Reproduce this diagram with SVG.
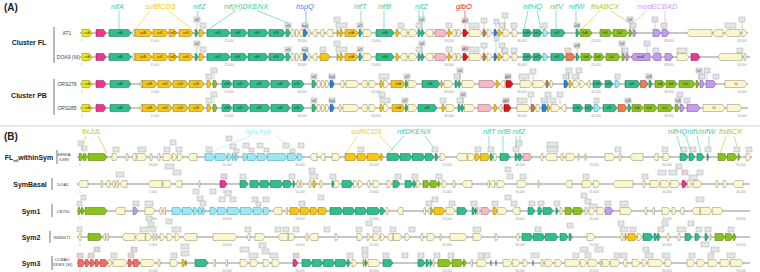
<svg xmlns="http://www.w3.org/2000/svg" width="760" height="272" viewBox="0 0 760 272">
<style>
.tk{stroke:#b5b5b5;stroke-width:1.3}
path.y,path.ly,path.m,path.t,path.b,path.lb,path.c,path.p,path.r,path.o,path.v,path.l,path.br,path.s{stroke-width:.5}
.y{fill:#f5c518;stroke:#8f7400}
.ly{fill:#ecec1c;stroke:#7d7a00}
.m{fill:#ec3590;stroke:#8a1a52}
.t{fill:#2ebf8b;stroke:#15674a}
.b{fill:#2a7fe0;stroke:#124a8a}
.lb{fill:#9ee6f2;stroke:#3a9aa8}
.c{fill:#fcf6cc;stroke:#8d8a6a}
.p{fill:#f5b9c3;stroke:#a0606a}
.r{fill:#e0141c;stroke:#7a0a0e}
.o{fill:#ec7b52;stroke:#8a3d20}
.v{fill:#8cc21c;stroke:#4a6e0c}
.l{fill:#c39cec;stroke:#6d4fa0}
.br{fill:#c8834a;stroke:#6a4020}
.s{fill:#ef6e68;stroke:#8a2e2a}
text{font-family:"Liberation Sans",Arial,sans-serif}
.gl{font-size:3px;fill:#333;text-anchor:middle}
.tl{font-size:3.2px;fill:#9a9a9a;text-anchor:middle}
.hd{font-size:7.5px;font-style:italic}
.rl{font-size:7px;font-weight:bold;fill:#222;text-anchor:middle}
.sl{font-size:5px;fill:#444;text-anchor:middle}
.sb{font-size:4.2px}
.bx rect{fill:#e3e6e3;stroke:#9aa09a;stroke-width:.4}
.bl{stroke:#8a8a8a;stroke-width:.4;fill:none}
.bt{font-size:2.6px;fill:#333;text-anchor:middle}
.cn{fill:#3dcf9e}.cs{fill:#f4cb10}.ch{fill:#3b8fe6}.cg{fill:#e4161c}.cf{fill:#a2cc2e}.cm{fill:#c6a2ee}.cy{fill:#a4eaf4}
.ln{fill:none;stroke-width:.6}
.bar{stroke:#8a8a8a;stroke-width:1.2}
</style>

<g id="panel-labels">
<text x="4" y="11" font-size="10" font-weight="bold" fill="#222">(A)</text>
<text x="4" y="140" font-size="10" font-weight="bold" fill="#222">(B)</text>
<line x1="0" y1="126" x2="760" y2="126" stroke="#cfcfcf" stroke-width="1"/>
</g>

<g id="headers">
<text class="hd cn" x="111" y="9">nifA</text>
<text class="hd cs" x="145" y="9">sufBCDS</text>
<text class="hd cn" x="193" y="9">nifZ</text>
<text class="hd cn" x="224" y="9">nif(H)DKENX</text>
<text class="hd ch" x="296" y="9">hspQ</text>
<text class="hd cn" x="354" y="9">nifT</text>
<text class="hd cn" x="378" y="9">nifB</text>
<text class="hd cn" x="415" y="9">nifZ</text>
<text class="hd cg" x="456" y="9">glbO</text>
<text class="hd cn" x="523" y="9">nifHQ</text>
<text class="hd cn" x="550" y="9">nifV</text>
<text class="hd cn" x="569" y="9">nifW</text>
<text class="hd cf" x="591" y="9">fixABCX</text>
<text class="hd cm" x="637" y="9">modECBAD</text>
<text class="hd cf" x="82" y="134">fixJJL</text>
<text class="hd cy" x="245" y="134">hya,hyp</text>
<text class="hd cs" x="351" y="134">sufBCDS</text>
<text class="hd cn" x="397" y="134">nifDKENX</text>
<text class="hd cn" x="483" y="134">nifT nifB nifZ</text>
<text class="hd cn" x="668" y="134">nifHQnifVnifW</text>
<text class="hd cf" x="719" y="134">fixBCX</text>
</g>

<g id="connectors">
<path class="ln" stroke="#3dcf9e" d="M119 10.5V29M198 10.5L197 17M236 10.5L209 29M257 10.5L288 23M361 10.5V23M384 10.5V29M419 10.5V23M423 10.5V17M528 10.5L524 29M537 10.5L541 29M556 10.5V29M576 10.5V23"/>
<path class="ln" stroke="#f4cb10" d="M150 10.5L136 29M168 10.5L192 29"/>
<path class="ln" stroke="#3b8fe6" d="M306 10.5V23"/>
<path class="ln" stroke="#e4161c" d="M465 10.5V18"/>
<path class="ln" stroke="#a2cc2e" d="M600 10.5L582 29M610 10.5L630 23"/>
<path class="ln" stroke="#c6a2ee" d="M647 10.5L633 23M665 10.5V23"/>
<path class="ln" stroke="#a2cc2e" d="M86 136L81 150M98 136L107 153.5M726 136L720 153.5M734 136L738 150"/>
<path class="ln" stroke="#a4eaf4" d="M250 136L208 153.5M275 136L293 147"/>
<path class="ln" stroke="#f4cb10" d="M357 136L346 153.5M380 136L396 153.5"/>
<path class="ln" stroke="#3dcf9e" d="M404 136L388 153.5M425 136L436 151M489 136V150M503 136V153.5M516 136V148M520 136V146M677 136L682 153.5M686 136L691 153.5M697 136L701 153.5M709 136V150"/>
</g>

<g id="row-labels">
<text class="rl" x="29" y="45">Cluster FL</text>
<text class="rl" x="29" y="98">Cluster PB</text>
<line class="bar" x1="54" y1="27" x2="54" y2="63"/>
<line class="bar" x1="54" y1="79" x2="54" y2="115"/>
<text class="sl" x="67" y="34.8">AT1</text>
<text class="sl" x="68.5" y="58.8">DOA9 (NI)</text>
<text class="sl" x="67" y="85.8">ORS278</text>
<text class="sl" x="67" y="109.8">ORS285</text>
<text class="rl" x="29" y="160" font-size="7.5">FL<tspan font-size="4" dy="1.5">nif</tspan><tspan dy="-1.5">withinSym</tspan></text>
<text class="rl" x="30" y="187" font-size="7.5">SymBasal</text>
<text class="rl" x="31" y="214" font-size="7.5">Sym1</text>
<text class="rl" x="31" y="240" font-size="7.5">Sym2</text>
<text class="rl" x="31" y="266" font-size="7.5">Sym3</text>
<line class="bar" x1="57" y1="150" x2="57" y2="164"/>
<line class="bar" x1="52" y1="178" x2="52" y2="190"/>
<line class="bar" x1="52" y1="204" x2="52" y2="217"/>
<line class="bar" x1="50" y1="231" x2="50" y2="243"/>
<line class="bar" x1="52" y1="256" x2="52" y2="270"/>
<text class="sl sb" x="64" y="155.5">SEMIA</text>
<text class="sl sb" x="64" y="160.5">6399</text>
<text class="sl sb" x="63" y="185.5">DOA1</text>
<text class="sl sb" x="63" y="212.5">CB756</text>
<text class="sl sb" x="62" y="238.5">WSM471</text>
<text class="sl sb" x="62" y="261">CCBAU</text>
<text class="sl sb" x="62.5" y="266">53363 (SI)</text>
</g>

<!-- ===== A1 AT1 ===== -->
<g id="track-AT1" transform="translate(0,33)">
<line class="tk" x1="80" y1="0" x2="748" y2="0"/>
<path class="ly" d="M82-3.5H89.5l2.5 3.5-2.5 3.5H82z"/>
<path class="y" d="M135-3.5H149.5l2.5 3.5-2.5 3.5H135zM153-3.5H165.5l2.5 3.5-2.5 3.5H153zM169-3.5H174.5l2.5 3.5-2.5 3.5H169zM179-3.5H190.5l2.5 3.5-2.5 3.5H179zM199-3.5H201.5l2.5 3.5-2.5 3.5H199zM337-3.5H337.5l1.5 3.5-1.5 3.5H337zM340-3.5H341.5l1.5 3.5-1.5 3.5H340zM345-3.5H355.5l2.5 3.5-2.5 3.5H345zM396-3.5H397.5l1.5 3.5-1.5 3.5H396zM448-3.5H449.5l1.5 3.5-1.5 3.5H448zM498-3.5H499.5l2.5 3.5-2.5 3.5H498z"/>
<path class="m" d="M96-3.5H103.5l2.5 3.5-2.5 3.5H96z"/>
<path class="t" d="M109-3.5H128.5l2.5 3.5-2.5 3.5H109zM195-3.5H196.5l1.5 3.5-1.5 3.5H195zM207-3.5H227.5l2.5 3.5-2.5 3.5H207zM231-3.5H244.5l2.5 3.5-2.5 3.5H231zM248-3.5H265.5l2.5 3.5-2.5 3.5H248zM269-3.5H282.5l2.5 3.5-2.5 3.5H269zM286-3.5H288.5l1.5 3.5-1.5 3.5H286zM359-3.5H360.5l1.5 3.5-1.5 3.5H359zM376-3.5H391.5l2.5 3.5-2.5 3.5H376zM418-3.5H419.5l1.5 3.5-1.5 3.5H418zM421.5-3.5H422.5l1.5 3.5-1.5 3.5H421.5zM523-3.5H529.5l2.5 3.5-2.5 3.5H523zM533-3.5H539.5l2.5 3.5-2.5 3.5H533zM551-3.5H562.5l2.5 3.5-2.5 3.5H551zM576-3.5H577.5l1.5 3.5-1.5 3.5H576z"/>
<path class="c" d="M134.5-3.5H133.5l-1.5 3.5 1.5 3.5H134.5zM291-3.5H293.5l1.5 3.5-1.5 3.5H291zM295.3-3.5H297.5l1.5 3.5-1.5 3.5H295.3zM303-3.5H300.5l-1.5 3.5 1.5 3.5H303zM308-3.5H309.5l1.5 3.5-1.5 3.5H308zM317-3.5H314.5l-2.5 3.5 2.5 3.5H317zM324-3.5H321.5l-1.5 3.5 1.5 3.5H324zM333-3.5H328.5l-2.5 3.5 2.5 3.5H333zM363-3.5H369.5l2.5 3.5-2.5 3.5H363zM407-3.5H402.5l-2.5 3.5 2.5 3.5H407zM409-3.5H414.5l2.5 3.5-2.5 3.5H409zM433-3.5H427.5l-2.5 3.5 2.5 3.5H433zM456-3.5H453.5l-1.5 3.5 1.5 3.5H456zM457-3.5H459.5l1.5 3.5-1.5 3.5H457zM469-3.5H479.5l2.5 3.5-2.5 3.5H469zM487-3.5H489.5l2.5 3.5-2.5 3.5H487zM503-3.5H507.5l2.5 3.5-2.5 3.5H503zM512-3.5H515.5l2.5 3.5-2.5 3.5H512zM712-3.5H689.5l-2.5 3.5 2.5 3.5H712zM723-3.5H715.5l-2.5 3.5 2.5 3.5H723zM740-3.5H727.5l-2.5 3.5 2.5 3.5H740zM742-3.5H744.5l2.5 3.5-2.5 3.5H742z"/>
<path class="b" d="M303.5-3.5H305.5l1.5 3.5-1.5 3.5H303.5zM494-3.5H495.5l1.5 3.5-1.5 3.5H494z"/>
<path class="lb" d="M543-3.5H545.5l2.5 3.5-2.5 3.5H543z"/>
<path class="p" d="M435-3.5H444.5l2.5 3.5-2.5 3.5H435z"/>
<path class="r" d="M463-3.5H465.5l2.5 3.5-2.5 3.5H463z"/>
<path class="br" d="M483-3.5H484.5l1.5 3.5-1.5 3.5H483z"/>
<path class="v" d="M580-3.5H589.5l2.5 3.5-2.5 3.5H580zM600-3.5H609.5l2.5 3.5-2.5 3.5H600zM613-3.5H625.5l2.5 3.5-2.5 3.5H613zM629-3.5H630.5l1.5 3.5-1.5 3.5H629z"/>
<path class="l" d="M633-3.5H634.5l1.5 3.5-1.5 3.5H633zM653-3.5H658.5l2.5 3.5-2.5 3.5H653zM662-3.5H666.5l2.5 3.5-2.5 3.5H662z"/>
<g class="gl"><text x="87" y="1">sufA</text><text x="120" y="1">nifA</text><text x="143" y="1">sufB</text><text x="160" y="1">sufC</text><text x="173" y="1">sufD</text><text x="186" y="1">sufS</text><text x="218" y="1">nifD</text><text x="238" y="1">nifK</text><text x="257" y="1">nifE</text><text x="276" y="1">nifN</text><text x="351" y="1">sufA</text><text x="385" y="1">nifB</text><text x="527" y="1">nifH</text><text x="537" y="1">nifQ</text><text x="557" y="1">nifV</text><text x="585" y="1">fixA</text><text x="605" y="1">fixB</text><text x="620" y="1">fixC</text></g>
<g class="tl"><text x="82" y="9">1</text><text x="155" y="9">6,000</text><text x="229" y="9">12,000</text><text x="302" y="9">18,000</text><text x="376" y="9">24,000</text><text x="449" y="9">30,000</text><text x="522" y="9">36,000</text><text x="596" y="9">42,000</text><text x="669" y="9">48,000</text><text x="742" y="9">54,000</text></g>
<g class="bx"><rect x="194" y="-16" width="6" height="5"/><rect x="200" y="-10" width="6" height="5"/><rect x="285" y="-10" width="6" height="5"/><rect x="302" y="-10" width="6" height="5" style="fill:#d3e4f5"/><rect x="334" y="-16" width="6" height="5"/><rect x="336" y="-10" width="11" height="5"/><rect x="357" y="-10" width="6" height="5"/><rect x="398" y="-10" width="6" height="5"/><rect x="416" y="-10" width="6" height="5"/><rect x="419" y="-16" width="6" height="5"/><rect x="446" y="-10" width="6" height="5"/><rect x="462" y="-15" width="6" height="5" style="fill:#f1d0d0"/><rect x="469" y="-10" width="10" height="5"/><rect x="481" y="-15" width="6" height="5"/><rect x="494" y="-14" width="5" height="5" style="fill:#d3e4f5"/><rect x="499" y="-10" width="6" height="5"/><rect x="502" y="-20" width="6" height="5"/><rect x="511" y="-10" width="6" height="5"/><rect x="542" y="-10" width="5" height="5"/><rect x="574" y="-10" width="6" height="5"/><rect x="627" y="-16" width="6" height="5"/><rect x="630" y="-10" width="6" height="5" style="fill:#e6dcf3"/><rect x="652" y="-16" width="6" height="5" style="fill:#e6dcf3"/><rect x="661" y="-10" width="6" height="5" style="fill:#e6dcf3"/><rect x="725" y="-10" width="11" height="5"/><rect x="739" y="-16" width="6" height="5"/></g>
<path class="bl" d="M197-11V-3.5M203-5V-3.5M288-5V-3.5M305-5V-3.5M337-11V-10M341-5V-3.5M360-5V-3.5M401-5V-3.5M419-5V-3.5M422-11V-3.5M449-5V-3.5M465-10V-3.5M474-5V-3.5M484-10V-3.5M496-9V-3.5M502-5V-3.5M505-15V-3.5M514-5V-3.5M545-5V-3.5M577-5V-3.5M630-11V-3.5M633-5V-3.5M655-11V-3.5M664-5V-3.5M730-5V-3.5M742-11V-3.5"/>
<g class="bt"><text x="197" y="-12.5">nifZ</text><text x="288" y="-6.5">nifX</text><text x="305" y="-6.5">hspQ</text><text x="360" y="-6.5">nifT</text><text x="422" y="-12.5">nifZ</text><text x="465" y="-11.5">glbO</text><text x="577" y="-6.5">nifW</text><text x="630" y="-12.5">fixX</text></g>
</g>

<!-- ===== A2 DOA9 ===== -->
<g id="track-DOA9" transform="translate(0,57)">
<line class="tk" x1="80" y1="0" x2="750" y2="0"/>
<path class="ly" d="M82-3.5H89.5l2.5 3.5-2.5 3.5H82z"/>
<path class="y" d="M135-3.5H149.5l2.5 3.5-2.5 3.5H135zM153-3.5H165.5l2.5 3.5-2.5 3.5H153zM169-3.5H174.5l2.5 3.5-2.5 3.5H169zM179-3.5H190.5l2.5 3.5-2.5 3.5H179zM199-3.5H201.5l2.5 3.5-2.5 3.5H199zM320-3.5H327.5l2.5 3.5-2.5 3.5H320zM337-3.5H337.5l1.5 3.5-1.5 3.5H337zM340-3.5H341.5l1.5 3.5-1.5 3.5H340zM345-3.5H355.5l2.5 3.5-2.5 3.5H345zM396-3.5H397.5l1.5 3.5-1.5 3.5H396zM448-3.5H449.5l1.5 3.5-1.5 3.5H448zM498-3.5H499.5l2.5 3.5-2.5 3.5H498z"/>
<path class="m" d="M96-3.5H103.5l2.5 3.5-2.5 3.5H96zM691-3.5H697.5l2.5 3.5-2.5 3.5H691z"/>
<path class="t" d="M109-3.5H128.5l2.5 3.5-2.5 3.5H109zM195-3.5H196.5l1.5 3.5-1.5 3.5H195zM207-3.5H227.5l2.5 3.5-2.5 3.5H207zM231-3.5H244.5l2.5 3.5-2.5 3.5H231zM248-3.5H265.5l2.5 3.5-2.5 3.5H248zM269-3.5H282.5l2.5 3.5-2.5 3.5H269zM286-3.5H288.5l1.5 3.5-1.5 3.5H286zM359-3.5H360.5l1.5 3.5-1.5 3.5H359zM376-3.5H391.5l2.5 3.5-2.5 3.5H376zM418-3.5H419.5l1.5 3.5-1.5 3.5H418zM421.5-3.5H422.5l1.5 3.5-1.5 3.5H421.5zM523-3.5H529.5l2.5 3.5-2.5 3.5H523zM533-3.5H539.5l2.5 3.5-2.5 3.5H533zM551-3.5H562.5l2.5 3.5-2.5 3.5H551zM576-3.5H577.5l1.5 3.5-1.5 3.5H576z"/>
<path class="c" d="M134.5-3.5H133.5l-1.5 3.5 1.5 3.5H134.5zM291-3.5H293.5l1.5 3.5-1.5 3.5H291zM295.3-3.5H297.5l1.5 3.5-1.5 3.5H295.3zM303-3.5H300.5l-1.5 3.5 1.5 3.5H303zM308-3.5H309.5l1.5 3.5-1.5 3.5H308zM317-3.5H314.5l-2.5 3.5 2.5 3.5H317zM363-3.5H369.5l2.5 3.5-2.5 3.5H363zM407-3.5H402.5l-2.5 3.5 2.5 3.5H407zM409-3.5H414.5l2.5 3.5-2.5 3.5H409zM433-3.5H427.5l-2.5 3.5 2.5 3.5H433zM456-3.5H453.5l-1.5 3.5 1.5 3.5H456zM457-3.5H459.5l1.5 3.5-1.5 3.5H457zM469-3.5H479.5l2.5 3.5-2.5 3.5H469zM487-3.5H489.5l2.5 3.5-2.5 3.5H487zM503-3.5H507.5l2.5 3.5-2.5 3.5H503zM512-3.5H515.5l2.5 3.5-2.5 3.5H512zM677-3.5H686.5l2.5 3.5-2.5 3.5H677zM742-3.5H720.5l-2.5 3.5 2.5 3.5H742zM744-3.5H745.5l1.5 3.5-1.5 3.5H744z"/>
<path class="b" d="M303.5-3.5H305.5l1.5 3.5-1.5 3.5H303.5zM494-3.5H495.5l1.5 3.5-1.5 3.5H494z"/>
<path class="lb" d="M543-3.5H545.5l2.5 3.5-2.5 3.5H543z"/>
<path class="p" d="M435-3.5H444.5l2.5 3.5-2.5 3.5H435z"/>
<path class="r" d="M463-3.5H465.5l2.5 3.5-2.5 3.5H463z"/>
<path class="br" d="M483-3.5H484.5l1.5 3.5-1.5 3.5H483z"/>
<path class="o" d="M566-3.5H572.5l2.5 3.5-2.5 3.5H566z"/>
<path class="v" d="M581-3.5H589.5l2.5 3.5-2.5 3.5H581zM594-3.5H601.5l2.5 3.5-2.5 3.5H594zM606-3.5H617.5l2.5 3.5-2.5 3.5H606zM622-3.5H623.5l1.5 3.5-1.5 3.5H622z"/>
<path class="l" d="M626-3.5H627.5l1.5 3.5-1.5 3.5H626zM650-3.5H633.5l-2.5 3.5 2.5 3.5H650zM661-3.5H654.5l-2.5 3.5 2.5 3.5H661zM665-3.5H670.5l2.5 3.5-2.5 3.5H665z"/>
<g class="gl"><text x="87" y="1">sufA</text><text x="120" y="1">nifA</text><text x="143" y="1">sufB</text><text x="160" y="1">sufC</text><text x="173" y="1">sufD</text><text x="186" y="1">sufS</text><text x="218" y="1">nifD</text><text x="238" y="1">nifK</text><text x="257" y="1">nifE</text><text x="276" y="1">nifN</text><text x="351" y="1">sufA</text><text x="385" y="1">nifB</text><text x="527" y="1">nifH</text><text x="537" y="1">nifQ</text><text x="557" y="1">nifV</text><text x="586" y="1">fixA</text><text x="598" y="1">fixB</text><text x="612" y="1">fixC</text><text x="641" y="1">modC</text></g>
<g class="tl"><text x="82" y="9">1</text><text x="155" y="9">6,000</text><text x="229" y="9">12,000</text><text x="302" y="9">18,000</text><text x="376" y="9">24,000</text><text x="449" y="9">30,000</text><text x="522" y="9">36,000</text><text x="596" y="9">42,000</text><text x="669" y="9">48,000</text><text x="742" y="9">54,000</text></g>
<g class="bx"><rect x="194" y="-16" width="6" height="5"/><rect x="200" y="-10" width="6" height="5"/><rect x="285" y="-10" width="6" height="5"/><rect x="302" y="-10" width="6" height="5" style="fill:#d3e4f5"/><rect x="320" y="-10" width="6" height="5"/><rect x="334" y="-16" width="6" height="5"/><rect x="336" y="-10" width="11" height="5"/><rect x="357" y="-10" width="6" height="5"/><rect x="416" y="-10" width="6" height="5"/><rect x="419" y="-16" width="6" height="5"/><rect x="446" y="-10" width="6" height="5"/><rect x="462" y="-11" width="6" height="5" style="fill:#f1d0d0"/><rect x="469" y="-10" width="10" height="5"/><rect x="481" y="-14" width="6" height="5"/><rect x="494" y="-21" width="5" height="5" style="fill:#d3e4f5"/><rect x="499" y="-14" width="6" height="5"/><rect x="502" y="-9" width="6" height="5"/><rect x="511" y="-9" width="6" height="5"/><rect x="565" y="-9" width="6" height="5" style="fill:#f3d8cc"/><rect x="574" y="-14" width="6" height="5"/><rect x="619" y="-16" width="6" height="5"/><rect x="622" y="-9" width="6" height="5" style="fill:#e6dcf3"/><rect x="644" y="-16" width="6" height="5" style="fill:#e6dcf3"/><rect x="653" y="-9" width="6" height="5" style="fill:#e6dcf3"/><rect x="677" y="-9" width="10" height="5"/><rect x="737" y="-9" width="6" height="5"/></g>
<path class="bl" d="M197-11V-3.5M203-5V-3.5M288-5V-3.5M305-5V-3.5M323-5V-3.5M337-11V-10M341-5V-3.5M360-5V-3.5M419-5V-3.5M422-11V-3.5M449-5V-3.5M465-6V-3.5M474-5V-3.5M484-9V-3.5M496-16V-3.5M502-9V-3.5M505-4V-3.5M514-4V-3.5M568-4V-3.5M577-9V-3.5M622-11V-3.5M625-4V-3.5M647-11V-3.5M656-4V-3.5M682-4V-3.5M740-4V-3.5"/>
<g class="bt"><text x="197" y="-12.5">nifZ</text><text x="288" y="-6.5">nifX</text><text x="305" y="-6.5">hspQ</text><text x="360" y="-6.5">nifT</text><text x="422" y="-12.5">nifZ</text><text x="465" y="-7.5">glbO</text><text x="577" y="-10.5">nifW</text><text x="622" y="-12.5">fixX</text></g>
</g>

<!-- ===== A3 ORS278 ===== -->
<g id="track-ORS278" transform="translate(0,84)">
<line class="tk" x1="80" y1="0" x2="748" y2="0"/>
<path class="ly" d="M82-3.5H89.5l2.5 3.5-2.5 3.5H82z"/>
<path class="y" d="M142-3.5H154.5l2.5 3.5-2.5 3.5H142zM158-3.5H169.5l2.5 3.5-2.5 3.5H158zM173-3.5H185.5l2.5 3.5-2.5 3.5H173zM189-3.5H201.5l2.5 3.5-2.5 3.5H189zM207-3.5H209.5l1.5 3.5-1.5 3.5H207zM380-3.5H381.5l1.5 3.5-1.5 3.5H380zM391-3.5H402.5l2.5 3.5-2.5 3.5H391zM441-3.5H441.5l1.5 3.5-1.5 3.5H441zM496-3.5H497.5l1.5 3.5-1.5 3.5H496zM569-3.5H570.5l1.5 3.5-1.5 3.5H569z"/>
<path class="m" d="M96-3.5H103.5l2.5 3.5-2.5 3.5H96z"/>
<path class="t" d="M110-3.5H128.5l2.5 3.5-2.5 3.5H110zM222-3.5H229.5l2.5 3.5-2.5 3.5H222zM233-3.5H246.5l2.5 3.5-2.5 3.5H233zM250-3.5H267.5l2.5 3.5-2.5 3.5H250zM271-3.5H287.5l2.5 3.5-2.5 3.5H271zM292-3.5H301.5l2.5 3.5-2.5 3.5H292zM312-3.5H314.5l1.5 3.5-1.5 3.5H312zM405.5-3.5H406.5l1.5 3.5-1.5 3.5H405.5zM422-3.5H437.5l2.5 3.5-2.5 3.5H422zM455-3.5H456.5l1.5 3.5-1.5 3.5H455zM458.5-3.5H459.5l1.5 3.5-1.5 3.5H458.5zM593-3.5H599.5l2.5 3.5-2.5 3.5H593zM605-3.5H610.5l2.5 3.5-2.5 3.5H605zM625-3.5H637.5l2.5 3.5-2.5 3.5H625zM649-3.5H650.5l1.5 3.5-1.5 3.5H649z"/>
<path class="v" d="M213-3.5H215.5l1.5 3.5-1.5 3.5H213zM655-3.5H662.5l2.5 3.5-2.5 3.5H655zM666-3.5H674.5l2.5 3.5-2.5 3.5H666zM679-3.5H692.5l2.5 3.5-2.5 3.5H679zM696-3.5H697.5l1.5 3.5-1.5 3.5H696z"/>
<path class="c" d="M142-3.5H141l-1 3.5 1 3.5H142zM317-3.5H319.5l1.5 3.5-1.5 3.5H317zM321.3-3.5H323.5l1.5 3.5-1.5 3.5H321.3zM325.3-3.5H327.5l1.5 3.5-1.5 3.5H325.3zM344-3.5H341.5l-1.5 3.5 1.5 3.5H344zM346-3.5H356.5l2.5 3.5-2.5 3.5H346zM367-3.5H363.5l-2.5 3.5 2.5 3.5H367zM369-3.5H373.5l2.5 3.5-2.5 3.5H369zM383.5-3.5H386.5l2.5 3.5-2.5 3.5H383.5zM408-3.5H414.5l2.5 3.5-2.5 3.5H408zM444-3.5H450.5l2.5 3.5-2.5 3.5H444zM462-3.5H472.5l2.5 3.5-2.5 3.5H462zM505-3.5H502.5l-2.5 3.5 2.5 3.5H505zM520-3.5H529.5l2.5 3.5-2.5 3.5H520zM533-3.5H542.5l2.5 3.5-2.5 3.5H533zM550-3.5H551.5l1.5 3.5-1.5 3.5H550zM573-3.5H576.5l2.5 3.5-2.5 3.5H573zM580-3.5H582.5l2.5 3.5-2.5 3.5H580zM590-3.5H588.5l-1.5 3.5 1.5 3.5H590zM725-3.5H744.5l2.5 3.5-2.5 3.5H725z"/>
<path class="b" d="M330-3.5H332.5l1.5 3.5-1.5 3.5H330zM564-3.5H566.5l1.5 3.5-1.5 3.5H564z"/>
<path class="lb" d="M615-3.5H617.5l2.5 3.5-2.5 3.5H615z"/>
<path class="p" d="M479-3.5H492.5l2.5 3.5-2.5 3.5H479z"/>
<path class="r" d="M506-3.5H510.5l2.5 3.5-2.5 3.5H506z"/>
<path class="br" d="M546-3.5H547.5l1.5 3.5-1.5 3.5H546z"/>
<path class="o" d="M640.5-3.5H645.5l2.5 3.5-2.5 3.5H640.5z"/>
<path class="l" d="M700-3.5H702.5l1.5 3.5-1.5 3.5H700zM706-3.5H713.5l2.5 3.5-2.5 3.5H706z"/>
<g class="gl"><text x="87" y="1">sufA</text><text x="120" y="1">nifA</text><text x="149" y="1">sufB</text><text x="165" y="1">sufC</text><text x="180" y="1">sufD</text><text x="196" y="1">sufS</text><text x="227" y="1">nifH</text><text x="240" y="1">nifD</text><text x="259" y="1">nifK</text><text x="280" y="1">nifE</text><text x="297" y="1">nifN</text><text x="398" y="1">sufA</text><text x="430" y="1">nifB</text><text x="597" y="1">nifH</text><text x="609" y="1">nifQ</text><text x="632" y="1">nifV</text><text x="660" y="1">fixA</text><text x="671" y="1">fixB</text><text x="686" y="1">fixC</text><text x="736" y="1">lsl</text></g>
<g class="tl"><text x="82" y="9">1</text><text x="155" y="9">6,000</text><text x="229" y="9">12,000</text><text x="302" y="9">18,000</text><text x="376" y="9">24,000</text><text x="449" y="9">30,000</text><text x="522" y="9">36,000</text><text x="596" y="9">42,000</text><text x="669" y="9">48,000</text><text x="742" y="9">54,000</text></g>
<g class="bx"><rect x="206" y="-10" width="6" height="5"/><rect x="211" y="-16" width="6" height="5"/><rect x="311" y="-10" width="6" height="5"/><rect x="329" y="-10" width="6" height="5" style="fill:#d3e4f5"/><rect x="379" y="-10" width="10" height="5"/><rect x="404" y="-10" width="6" height="5"/><rect x="454" y="-10" width="6" height="5"/><rect x="457" y="-16" width="6" height="5"/><rect x="505" y="-10" width="6" height="5" style="fill:#f1d0d0"/><rect x="519" y="-10" width="10" height="5"/><rect x="530" y="-15" width="6" height="5"/><rect x="563" y="-10" width="6" height="5" style="fill:#d3e4f5"/><rect x="566" y="-16" width="6" height="5"/><rect x="572" y="-10" width="6" height="5"/><rect x="576" y="-16" width="6" height="5"/><rect x="615" y="-10" width="5" height="5"/><rect x="646" y="-10" width="6" height="5"/><rect x="696" y="-16" width="6" height="5"/><rect x="699" y="-10" width="6" height="5" style="fill:#e6dcf3"/><rect x="704" y="-16" width="6" height="5" style="fill:#e6dcf3"/><rect x="713" y="-10" width="6" height="5" style="fill:#e6dcf3"/></g>
<path class="bl" d="M209-5V-3.5M214-11V-3.5M314-5V-3.5M332-5V-3.5M384-5V-3.5M407-5V-3.5M457-5V-3.5M460-11V-3.5M508-5V-3.5M524-5V-3.5M533-10V-3.5M566-5V-3.5M569-11V-3.5M575-5V-3.5M579-11V-3.5M617-5V-3.5M649-5V-3.5M699-11V-3.5M702-5V-3.5M707-11V-3.5M716-5V-3.5"/>
<g class="bt"><text x="314" y="-6.5">nifX</text><text x="332" y="-6.5">hspQ</text><text x="407" y="-6.5">nifT</text><text x="460" y="-12.5">nifZ</text><text x="508" y="-6.5">glbO</text><text x="649" y="-6.5">nifW</text><text x="699" y="-12.5">fixX</text></g>
</g>

<!-- ===== A4 ORS285 ===== -->
<g id="track-ORS285" transform="translate(0,108)">
<line class="tk" x1="80" y1="0" x2="748" y2="0"/>
<path class="ly" d="M82-3.5H89.5l2.5 3.5-2.5 3.5H82z"/>
<path class="y" d="M142-3.5H154.5l2.5 3.5-2.5 3.5H142zM158-3.5H169.5l2.5 3.5-2.5 3.5H158zM173-3.5H185.5l2.5 3.5-2.5 3.5H173zM189-3.5H201.5l2.5 3.5-2.5 3.5H189zM207-3.5H209.5l1.5 3.5-1.5 3.5H207zM380-3.5H381.5l1.5 3.5-1.5 3.5H380zM392-3.5H402.5l2.5 3.5-2.5 3.5H392zM442-3.5H443.5l1.5 3.5-1.5 3.5H442zM494-3.5H495.5l1.5 3.5-1.5 3.5H494zM547.5-3.5H548.5l1.5 3.5-1.5 3.5H547.5z"/>
<path class="m" d="M96-3.5H103.5l2.5 3.5-2.5 3.5H96z"/>
<path class="t" d="M110-3.5H128.5l2.5 3.5-2.5 3.5H110zM222-3.5H229.5l2.5 3.5-2.5 3.5H222zM233-3.5H246.5l2.5 3.5-2.5 3.5H233zM250-3.5H267.5l2.5 3.5-2.5 3.5H250zM271-3.5H287.5l2.5 3.5-2.5 3.5H271zM292-3.5H301.5l2.5 3.5-2.5 3.5H292zM312-3.5H314.5l1.5 3.5-1.5 3.5H312zM405.5-3.5H406.5l1.5 3.5-1.5 3.5H405.5zM418-3.5H434.5l2.5 3.5-2.5 3.5H418zM458-3.5H459.5l1.5 3.5-1.5 3.5H458zM461.5-3.5H462.5l1.5 3.5-1.5 3.5H461.5zM573-3.5H580.5l2.5 3.5-2.5 3.5H573zM585-3.5H590.5l2.5 3.5-2.5 3.5H585zM603-3.5H614.5l2.5 3.5-2.5 3.5H603zM628-3.5H629.5l1.5 3.5-1.5 3.5H628z"/>
<path class="v" d="M213-3.5H215.5l1.5 3.5-1.5 3.5H213zM632-3.5H640.5l2.5 3.5-2.5 3.5H632zM644-3.5H654.5l2.5 3.5-2.5 3.5H644zM658-3.5H670.5l2.5 3.5-2.5 3.5H658zM675-3.5H677.5l1.5 3.5-1.5 3.5H675z"/>
<path class="c" d="M142-3.5H141l-1 3.5 1 3.5H142zM317-3.5H319.5l1.5 3.5-1.5 3.5H317zM321.3-3.5H323.5l1.5 3.5-1.5 3.5H321.3zM325.3-3.5H327.5l1.5 3.5-1.5 3.5H325.3zM341-3.5H339.5l-1.5 3.5 1.5 3.5H341zM343-3.5H356.5l2.5 3.5-2.5 3.5H343zM367-3.5H363.5l-2.5 3.5 2.5 3.5H367zM369-3.5H373.5l2.5 3.5-2.5 3.5H369zM383.5-3.5H386.5l2.5 3.5-2.5 3.5H383.5zM408-3.5H414.5l2.5 3.5-2.5 3.5H408zM446-3.5H452.5l2.5 3.5-2.5 3.5H446zM464.5-3.5H472.5l2.5 3.5-2.5 3.5H464.5zM502-3.5H500.5l-1.5 3.5 1.5 3.5H502zM517-3.5H527.5l2.5 3.5-2.5 3.5H517zM536-3.5H538.5l1.5 3.5-1.5 3.5H536zM551-3.5H557.5l2.5 3.5-2.5 3.5H551zM566-3.5H563.5l-2.5 3.5 2.5 3.5H566zM703-3.5H722.5l2.5 3.5-2.5 3.5H703zM727-3.5H739.5l2.5 3.5-2.5 3.5H727z"/>
<path class="b" d="M330-3.5H332.5l1.5 3.5-1.5 3.5H330zM542-3.5H545.5l1.5 3.5-1.5 3.5H542z"/>
<path class="lb" d="M594-3.5H597.5l2.5 3.5-2.5 3.5H594z"/>
<path class="p" d="M478-3.5H489.5l2.5 3.5-2.5 3.5H478z"/>
<path class="r" d="M504-3.5H508.5l2.5 3.5-2.5 3.5H504z"/>
<path class="br" d="M531-3.5H533.5l1.5 3.5-1.5 3.5H531z"/>
<path class="o" d="M618-3.5H624.5l2.5 3.5-2.5 3.5H618z"/>
<path class="l" d="M680-3.5H682.5l1.5 3.5-1.5 3.5H680zM687-3.5H697.5l2.5 3.5-2.5 3.5H687z"/>
<g class="gl"><text x="87" y="1">sufA</text><text x="120" y="1">nifA</text><text x="149" y="1">sufB</text><text x="165" y="1">sufC</text><text x="180" y="1">sufD</text><text x="196" y="1">sufS</text><text x="227" y="1">nifH</text><text x="240" y="1">nifD</text><text x="259" y="1">nifK</text><text x="280" y="1">nifE</text><text x="297" y="1">nifN</text><text x="398" y="1">sufA</text><text x="427" y="1">nifB</text><text x="577" y="1">nifH</text><text x="588" y="1">nifQ</text><text x="609" y="1">nifV</text><text x="637" y="1">fixA</text><text x="649" y="1">fixB</text><text x="665" y="1">fixC</text><text x="714" y="1">lsl</text></g>
<g class="tl"><text x="82" y="9">1</text><text x="155" y="9">6,000</text><text x="229" y="9">12,000</text><text x="302" y="9">18,000</text><text x="376" y="9">24,000</text><text x="449" y="9">30,000</text><text x="522" y="9">36,000</text><text x="596" y="9">42,000</text><text x="669" y="9">48,000</text><text x="742" y="9">54,000</text></g>
<g class="bx"><rect x="206" y="-10" width="6" height="5"/><rect x="211" y="-16" width="6" height="5"/><rect x="311" y="-10" width="6" height="5"/><rect x="329" y="-10" width="6" height="5" style="fill:#d3e4f5"/><rect x="379" y="-16" width="6" height="5"/><rect x="380" y="-10" width="10" height="5"/><rect x="402" y="-10" width="6" height="5"/><rect x="440" y="-10" width="6" height="5"/><rect x="457" y="-10" width="6" height="5"/><rect x="460" y="-16" width="6" height="5"/><rect x="503" y="-10" width="6" height="5" style="fill:#f1d0d0"/><rect x="517" y="-10" width="10" height="5"/><rect x="528" y="-16" width="6" height="5"/><rect x="541" y="-10" width="6" height="5" style="fill:#d3e4f5"/><rect x="545" y="-16" width="6" height="5"/><rect x="550" y="-10" width="6" height="5"/><rect x="557" y="-16" width="6" height="5"/><rect x="594" y="-10" width="5" height="5"/><rect x="625" y="-10" width="6" height="5"/><rect x="675" y="-10" width="6" height="5"/><rect x="677" y="-16" width="6" height="5" style="fill:#e6dcf3"/><rect x="684" y="-10" width="6" height="5" style="fill:#e6dcf3"/></g>
<path class="bl" d="M209-5V-3.5M214-11V-3.5M314-5V-3.5M332-5V-3.5M382-11V-10M385-5V-3.5M405-5V-3.5M443-5V-3.5M460-5V-3.5M463-11V-3.5M506-5V-3.5M522-5V-3.5M531-11V-3.5M544-5V-3.5M548-11V-3.5M553-5V-3.5M560-11V-3.5M596-5V-3.5M628-5V-3.5M678-5V-3.5M680-11V-3.5M687-5V-3.5"/>
<g class="bt"><text x="314" y="-6.5">nifX</text><text x="332" y="-6.5">hspQ</text><text x="405" y="-6.5">nifT</text><text x="463" y="-12.5">nifZ</text><text x="506" y="-6.5">glbO</text><text x="628" y="-6.5">nifW</text><text x="678" y="-6.5">fixX</text></g>
</g>

<!-- ===== B1 SEMIA 6399 ===== -->
<g id="track-SEMIA6399" transform="translate(0,157)">
<line class="tk" x1="77" y1="0" x2="752" y2="0"/>
<path class="v" d="M79-3.5H81.5l1.5 3.5-1.5 3.5H79zM83.5-3.5H85.5l1.5 3.5-1.5 3.5H83.5zM88-3.5H104.5l2.5 3.5-2.5 3.5H88zM718-3.5H724.5l2.5 3.5-2.5 3.5H718zM727.5-3.5H734.5l2.5 3.5-2.5 3.5H727.5zM738-3.5H738.5l1.5 3.5-1.5 3.5H738z"/>
<path class="c" d="M112-3.5H115.5l2.5 3.5-2.5 3.5H112zM128-3.5H126.5l-1.5 3.5 1.5 3.5H128zM136-3.5H133.5l-1.5 3.5 1.5 3.5H136zM137-3.5H144.5l2.5 3.5-2.5 3.5H137zM152-3.5H150.5l-1.5 3.5 1.5 3.5H152zM160-3.5H158.5l-1.5 3.5 1.5 3.5H160zM163-3.5H169.5l2.5 3.5-2.5 3.5H163zM172.3-3.5H174.5l2.5 3.5-2.5 3.5H172.3zM177.3-3.5H180.5l2.5 3.5-2.5 3.5H177.3zM197-3.5H190.5l-2.5 3.5 2.5 3.5H197zM317-3.5H312.5l-2.5 3.5 2.5 3.5H317zM325-3.5H322.5l-2.5 3.5 2.5 3.5H325zM332-3.5H337.5l2.5 3.5-2.5 3.5H332zM440-3.5H443.5l2.5 3.5-2.5 3.5H440zM467-3.5H458.5l-2.5 3.5 2.5 3.5H467zM468-3.5H472.5l2.5 3.5-2.5 3.5H468zM493.3-3.5H495.5l1.5 3.5-1.5 3.5H493.3zM543-3.5H541.5l-1.5 3.5 1.5 3.5H543zM557-3.5H547.5l-2.5 3.5 2.5 3.5H557zM563-3.5H561.5l-1.5 3.5 1.5 3.5H563zM566-3.5H572.5l2.5 3.5-2.5 3.5H566zM578-3.5H578.5l1.5 3.5-1.5 3.5H578zM586-3.5H585.5l-1.5 3.5 1.5 3.5H586zM605-3.5H612.5l2.5 3.5-2.5 3.5H605zM621-3.5H619.5l-1.5 3.5 1.5 3.5H621zM643-3.5H632.5l-2.5 3.5 2.5 3.5H643zM658-3.5H655.5l-1.5 3.5 1.5 3.5H658zM663-3.5H667.5l2.5 3.5-2.5 3.5H663zM746-3.5H748.5l2.5 3.5-2.5 3.5H746z"/>
<path class="lb" d="M205-3.5H212.5l2.5 3.5-2.5 3.5H205zM215.3-3.5H224.5l2.5 3.5-2.5 3.5H215.3zM227.3-3.5H229.5l2.5 3.5-2.5 3.5H227.3zM232.3-3.5H233.5l1.5 3.5-1.5 3.5H232.3zM235.3-3.5H236.5l1.5 3.5-1.5 3.5H235.3zM243-3.5H245.5l1.5 3.5-1.5 3.5H243zM247.3-3.5H254.5l2.5 3.5-2.5 3.5H247.3zM257.3-3.5H264.5l2.5 3.5-2.5 3.5H257.3zM267.3-3.5H284.5l2.5 3.5-2.5 3.5H267.3zM287.3-3.5H294.5l2.5 3.5-2.5 3.5H287.3zM297.3-3.5H300.5l2.5 3.5-2.5 3.5H297.3z"/>
<path class="y" d="M345-3.5H354.5l2.5 3.5-2.5 3.5H345zM357.3-3.5H364.5l2.5 3.5-2.5 3.5H357.3zM367.3-3.5H377.5l2.5 3.5-2.5 3.5H367.3zM380.3-3.5H381.5l1.5 3.5-1.5 3.5H380.3zM475-3.5H477.5l2.5 3.5-2.5 3.5H475zM480.3-3.5H487.5l2.5 3.5-2.5 3.5H480.3z"/>
<path class="t" d="M387-3.5H397.5l2.5 3.5-2.5 3.5H387zM400.3-3.5H409.5l2.5 3.5-2.5 3.5H400.3zM412.3-3.5H422.5l2.5 3.5-2.5 3.5H412.3zM425.3-3.5H431.5l2.5 3.5-2.5 3.5H425.3zM435-3.5H436.5l1.5 3.5-1.5 3.5H435zM490.3-3.5H491.5l1.5 3.5-1.5 3.5H490.3zM500-3.5H507.5l2.5 3.5-2.5 3.5H500zM515-3.5H516.5l1.5 3.5-1.5 3.5H515zM518.5-3.5H520.5l1.5 3.5-1.5 3.5H518.5zM680-3.5H685.5l2.5 3.5-2.5 3.5H680zM689-3.5H692.5l2.5 3.5-2.5 3.5H689zM697-3.5H701.5l2.5 3.5-2.5 3.5H697zM707-3.5H707.5l1.5 3.5-1.5 3.5H707z"/>
<path class="p" d="M523-3.5H529.5l2.5 3.5-2.5 3.5H523z"/>
<g class="tl"><text x="80" y="9">1</text><text x="153" y="9">10,000</text><text x="227" y="9">20,000</text><text x="300" y="9">30,000</text><text x="374" y="9">40,000</text><text x="447" y="9">50,000</text><text x="520" y="9">60,000</text><text x="594" y="9">70,000</text><text x="667" y="9">80,000</text><text x="741" y="9">90,000</text></g>
<g class="bx"><rect x="78" y="-16" width="5" height="5"/><rect x="82" y="-11" width="5" height="5"/><rect x="113" y="-10" width="6" height="5"/><rect x="138" y="-10" width="8" height="5"/><rect x="164" y="-10" width="6" height="5"/><rect x="170" y="-17" width="6" height="5"/><rect x="176" y="-10" width="6" height="5"/><rect x="206" y="-10" width="6" height="5"/><rect x="226" y="-21" width="6" height="5"/><rect x="230" y="-13" width="6" height="5"/><rect x="234" y="-8" width="5" height="4"/><rect x="243" y="-14" width="6" height="5"/><rect x="249" y="-9" width="5" height="4"/><rect x="257" y="-14" width="6" height="5"/><rect x="264" y="-9" width="5" height="4"/><rect x="283" y="-14" width="6" height="5"/><rect x="290" y="-8" width="5" height="4"/><rect x="298" y="-14" width="6" height="5"/><rect x="358" y="-10" width="6" height="5"/><rect x="432" y="-10" width="6" height="5"/><rect x="475" y="-10" width="6" height="5"/><rect x="488" y="-10" width="6" height="5"/><rect x="513" y="-10" width="6" height="5"/><rect x="516" y="-16" width="6" height="5"/><rect x="547" y="-15" width="11" height="5"/><rect x="547" y="-10" width="11" height="5"/><rect x="615" y="-10" width="6" height="5"/><rect x="662" y="-10" width="6" height="5"/><rect x="681" y="-10" width="6" height="5"/><rect x="690" y="-10" width="6" height="5"/><rect x="705" y="-10" width="6" height="5"/><rect x="734" y="-10" width="6" height="5"/><rect x="746" y="-10" width="6" height="5"/></g>
</g>

<!-- ===== B2 DOA1 ===== -->
<g id="track-DOA1" transform="translate(0,184)">
<line class="tk" x1="77" y1="0" x2="750" y2="0"/>
<path class="c" d="M88-3.5H80.5l-2.5 3.5 2.5 3.5H88zM102.5-3.5H101.5l-1.5 3.5 1.5 3.5H102.5zM110-3.5H107.5l-1.5 3.5 1.5 3.5H110zM115-3.5H113.5l-1.5 3.5 1.5 3.5H115zM118.3-3.5H117l-1.5 3.5 1.5 3.5H118.3zM127-3.5H122.5l-2.5 3.5 2.5 3.5H127zM162-3.5H150.5l-2.5 3.5 2.5 3.5H162zM163-3.5H169.5l2.5 3.5-2.5 3.5H163zM182-3.5H177.5l-2.5 3.5 2.5 3.5H182zM200-3.5H199.5l-1.5 3.5 1.5 3.5H200zM297-3.5H298.5l1.5 3.5-1.5 3.5H297zM300.3-3.5H301.5l1.5 3.5-1.5 3.5H300.3zM311-3.5H309.5l-1.5 3.5 1.5 3.5H311zM320-3.5H321.5l1.5 3.5-1.5 3.5H320zM334-3.5H337.5l2.5 3.5-2.5 3.5H334zM353.3-3.5H355.5l2.5 3.5-2.5 3.5H353.3zM358.3-3.5H360.5l2.5 3.5-2.5 3.5H358.3zM370-3.5H368.5l-1.5 3.5 1.5 3.5H370zM373-3.5H377.5l2.5 3.5-2.5 3.5H373zM387-3.5H389.5l2.5 3.5-2.5 3.5H387zM416.3-3.5H418.5l1.5 3.5-1.5 3.5H416.3zM442-3.5H444.5l2.5 3.5-2.5 3.5H442zM455-3.5H453.5l-1.5 3.5 1.5 3.5H455zM472-3.5H464.5l-2.5 3.5 2.5 3.5H472zM489.5-3.5H488.5l-1.5 3.5 1.5 3.5H489.5zM495-3.5H492.5l-2.5 3.5 2.5 3.5H495zM497-3.5H502.5l2.5 3.5-2.5 3.5H497zM517-3.5H524.5l2.5 3.5-2.5 3.5H517zM538-3.5H538.5l1.5 3.5-1.5 3.5H538zM572-3.5H567.5l-2.5 3.5 2.5 3.5H572zM582-3.5H589.5l2.5 3.5-2.5 3.5H582zM593.3-3.5H597.5l2.5 3.5-2.5 3.5H593.3zM633-3.5H615.5l-2.5 3.5 2.5 3.5H633zM645-3.5H643.5l-1.5 3.5 1.5 3.5H645zM650-3.5H657.5l2.5 3.5-2.5 3.5H650zM660.3-3.5H667.5l2.5 3.5-2.5 3.5H660.3zM670.3-3.5H677.5l2.5 3.5-2.5 3.5H670.3zM687.3-3.5H689.5l2.5 3.5-2.5 3.5H687.3zM693-3.5H699.5l2.5 3.5-2.5 3.5H693zM718-3.5H716.5l-1.5 3.5 1.5 3.5H718zM723-3.5H725.5l1.5 3.5-1.5 3.5H723zM743-3.5H735.5l-2.5 3.5 2.5 3.5H743z"/>
<path class="m" d="M220-3.5H224.5l2.5 3.5-2.5 3.5H220zM682-3.5H684.5l2.5 3.5-2.5 3.5H682z"/>
<path class="t" d="M240-3.5H245.5l2.5 3.5-2.5 3.5H240zM250-3.5H257.5l2.5 3.5-2.5 3.5H250zM260.3-3.5H267.5l2.5 3.5-2.5 3.5H260.3zM270.3-3.5H280.5l2.5 3.5-2.5 3.5H270.3zM283.3-3.5H289.5l2.5 3.5-2.5 3.5H283.3zM293-3.5H293.5l1.5 3.5-1.5 3.5H293zM332-3.5H332.5l1.5 3.5-1.5 3.5H332zM342-3.5H350.5l2.5 3.5-2.5 3.5H342zM393-3.5H397.5l2.5 3.5-2.5 3.5H393zM405-3.5H410.5l2.5 3.5-2.5 3.5H405zM413.3-3.5H414.5l1.5 3.5-1.5 3.5H413.3z"/>
<path class="y" d="M313-3.5H314.5l1.5 3.5-1.5 3.5H313z"/>
<path class="v" d="M423-3.5H427.5l2.5 3.5-2.5 3.5H423zM430.3-3.5H435.5l2.5 3.5-2.5 3.5H430.3zM438.3-3.5H438.5l1.5 3.5-1.5 3.5H438.3z"/>
<g class="tl"><text x="80" y="9">1</text><text x="153" y="9">5,000</text><text x="227" y="9">10,000</text><text x="300" y="9">15,000</text><text x="374" y="9">20,000</text><text x="447" y="9">25,000</text><text x="520" y="9">30,000</text><text x="594" y="9">35,000</text><text x="667" y="9">40,000</text><text x="741" y="9">45,000</text></g>
<g class="bx"><rect x="116" y="-12" width="8" height="5"/><rect x="165" y="-20" width="9" height="5"/><rect x="173" y="-14" width="8" height="5"/><rect x="221" y="-10" width="6" height="5" style="fill:#f1d0d0"/><rect x="240" y="-10" width="6" height="5"/><rect x="289" y="-10" width="6" height="5"/><rect x="309" y="-16" width="6" height="5"/><rect x="310" y="-10" width="8" height="5"/><rect x="330" y="-10" width="6" height="5"/><rect x="395" y="-10" width="6" height="5"/><rect x="412" y="-10" width="6" height="5"/><rect x="436" y="-10" width="6" height="5"/><rect x="505" y="-17" width="6" height="5"/><rect x="507" y="-10" width="6" height="5"/><rect x="520" y="-10" width="6" height="5"/><rect x="583" y="-10" width="6" height="5"/><rect x="642" y="-10" width="6" height="5"/><rect x="658" y="-14" width="8" height="5"/><rect x="669" y="-14" width="8" height="5"/><rect x="676" y="-20" width="6" height="5"/><rect x="682" y="-14" width="6" height="5" style="fill:#f1d0d0"/><rect x="689" y="-9" width="8" height="5"/><rect x="697" y="-14" width="6" height="5"/></g>
</g>

<!-- ===== B3 CB756 ===== -->
<g id="track-CB756" transform="translate(0,211)">
<line class="tk" x1="77" y1="0" x2="750" y2="0"/>
<path class="v" d="M78-3.5H79.5l1.5 3.5-1.5 3.5H78zM81.5-3.5H82.5l1.5 3.5-1.5 3.5H81.5zM85-3.5H104.5l2.5 3.5-2.5 3.5H85zM565-3.5H570.5l2.5 3.5-2.5 3.5H565zM573.3-3.5H580.5l2.5 3.5-2.5 3.5H573.3z"/>
<path class="c" d="M125-3.5H117.5l-2.5 3.5 2.5 3.5H125zM145-3.5H152.5l2.5 3.5-2.5 3.5H145zM162-3.5H160.5l-1.5 3.5 1.5 3.5H162zM165.5-3.5H164.5l-1.5 3.5 1.5 3.5H165.5zM282-3.5H275.5l-2.5 3.5 2.5 3.5H282zM287.5-3.5H286.5l-1.5 3.5 1.5 3.5H287.5zM386-3.5H387.5l1.5 3.5-1.5 3.5H386zM403-3.5H399.5l-2.5 3.5 2.5 3.5H403zM425.5-3.5H424.5l-1.5 3.5 1.5 3.5H425.5zM430.5-3.5H429.5l-1.5 3.5 1.5 3.5H430.5zM446-3.5H452.5l2.5 3.5-2.5 3.5H446zM477.3-3.5H478.5l1.5 3.5-1.5 3.5H477.3zM497.3-3.5H504.5l2.5 3.5-2.5 3.5H497.3zM520-3.5H514.5l-2.5 3.5 2.5 3.5H520zM560-3.5H561.5l1.5 3.5-1.5 3.5H560zM585-3.5H586.5l1.5 3.5-1.5 3.5H585zM589-3.5H592.5l2.5 3.5-2.5 3.5H589zM597-3.5H602.5l2.5 3.5-2.5 3.5H597zM620-3.5H629.5l2.5 3.5-2.5 3.5H620zM647-3.5H645.5l-1.5 3.5 1.5 3.5H647zM654.5-3.5H653.5l-1.5 3.5 1.5 3.5H654.5zM662-3.5H667.5l2.5 3.5-2.5 3.5H662zM672-3.5H674.5l1.5 3.5-1.5 3.5H672zM684-3.5H681.5l-1.5 3.5 1.5 3.5H684zM700-3.5H694.5l-2.5 3.5 2.5 3.5H700zM700.3-3.5H709.5l2.5 3.5-2.5 3.5H700.3zM712.3-3.5H720.5l2.5 3.5-2.5 3.5H712.3z"/>
<path class="l" d="M133-3.5H135.5l2.5 3.5-2.5 3.5H133zM605.3-3.5H610.5l2.5 3.5-2.5 3.5H605.3z"/>
<path class="lb" d="M172-3.5H179.5l2.5 3.5-2.5 3.5H172zM182.3-3.5H190.5l2.5 3.5-2.5 3.5H182.3zM193.3-3.5H195.5l2.5 3.5-2.5 3.5H193.3zM198.3-3.5H200.5l1.5 3.5-1.5 3.5H198.3zM202.3-3.5H203.5l1.5 3.5-1.5 3.5H202.3zM210-3.5H214.5l2.5 3.5-2.5 3.5H210zM217.3-3.5H224.5l2.5 3.5-2.5 3.5H217.3zM227.3-3.5H237.5l2.5 3.5-2.5 3.5H227.3zM240.3-3.5H250.5l2.5 3.5-2.5 3.5H240.3zM253.3-3.5H260.5l2.5 3.5-2.5 3.5H253.3zM263.3-3.5H267.5l2.5 3.5-2.5 3.5H263.3z"/>
<path class="y" d="M290-3.5H297.5l2.5 3.5-2.5 3.5H290zM300.3-3.5H307.5l2.5 3.5-2.5 3.5H300.3zM310.3-3.5H315.5l2.5 3.5-2.5 3.5H310.3zM318.3-3.5H324.5l2.5 3.5-2.5 3.5H318.3zM431-3.5H431.5l1.5 3.5-1.5 3.5H431zM434-3.5H442.5l2.5 3.5-2.5 3.5H434zM493-3.5H495.5l1.5 3.5-1.5 3.5H493z"/>
<path class="t" d="M330-3.5H340.5l2.5 3.5-2.5 3.5H330zM343.3-3.5H352.5l2.5 3.5-2.5 3.5H343.3zM355.3-3.5H364.5l2.5 3.5-2.5 3.5H355.3zM367.3-3.5H377.5l2.5 3.5-2.5 3.5H367.3zM380.3-3.5H382.5l2.5 3.5-2.5 3.5H380.3zM457-3.5H464.5l2.5 3.5-2.5 3.5H457zM472-3.5H473.5l1.5 3.5-1.5 3.5H472zM475.3-3.5H475.5l1.5 3.5-1.5 3.5H475.3zM528-3.5H532.5l2.5 3.5-2.5 3.5H528zM538-3.5H540.5l1.5 3.5-1.5 3.5H538zM543-3.5H550.5l2.5 3.5-2.5 3.5H543zM556-3.5H556.5l1.5 3.5-1.5 3.5H556z"/>
<path class="p" d="M481-3.5H487.5l2.5 3.5-2.5 3.5H481z"/>
<g class="tl"><text x="80" y="9">1</text><text x="153" y="9">5,000</text><text x="227" y="9">10,000</text><text x="300" y="9">15,000</text><text x="374" y="9">20,000</text><text x="447" y="9">25,000</text><text x="520" y="9">30,000</text><text x="594" y="9">35,000</text><text x="667" y="9">40,000</text><text x="741" y="9">45,000</text></g>
<g class="bx"><rect x="77" y="-10" width="5" height="5"/><rect x="81" y="-16" width="5" height="5"/><rect x="133" y="-10" width="6" height="5" style="fill:#e6dcf3"/><rect x="145" y="-10" width="8" height="5"/><rect x="193" y="-22" width="6" height="5"/><rect x="197" y="-15" width="6" height="5"/><rect x="200" y="-10" width="6" height="5"/><rect x="210" y="-22" width="6" height="5"/><rect x="219" y="-14" width="6" height="5"/><rect x="225" y="-20" width="6" height="5"/><rect x="230" y="-14" width="6" height="5"/><rect x="252" y="-14" width="6" height="5"/><rect x="256" y="-9" width="5" height="4"/><rect x="263" y="-14" width="6" height="5"/><rect x="299" y="-10" width="6" height="5"/><rect x="318" y="-16" width="6" height="5"/><rect x="426" y="-10" width="6" height="5"/><rect x="432" y="-14" width="6" height="5"/><rect x="449" y="-10" width="6" height="5"/><rect x="471" y="-10" width="6" height="5"/><rect x="492" y="-10" width="6" height="5"/><rect x="505" y="-16" width="6" height="5"/><rect x="511" y="-10" width="6" height="5"/><rect x="529" y="-10" width="6" height="5"/><rect x="538" y="-10" width="6" height="5"/><rect x="554" y="-10" width="6" height="5"/><rect x="581" y="-18" width="6" height="5"/><rect x="585" y="-12" width="6" height="5"/><rect x="589" y="-7" width="8" height="4"/><rect x="605" y="-10" width="6" height="5" style="fill:#e6dcf3"/><rect x="620" y="-10" width="8" height="5"/><rect x="696" y="-14" width="8" height="5"/></g>
</g>

<!-- ===== B4 WSM471 ===== -->
<g id="track-WSM471" transform="translate(0,237)">
<line class="tk" x1="77" y1="0" x2="750" y2="0"/>
<path class="c" d="M81-3.5H79.5l-1.5 3.5 1.5 3.5H81zM105.5-3.5H104.5l-1.5 3.5 1.5 3.5H105.5zM108.5-3.5H107.5l-1.5 3.5 1.5 3.5H108.5zM135-3.5H124.5l-2.5 3.5 2.5 3.5H135zM145.3-3.5H137.8l-2.5 3.5 2.5 3.5H145.3zM145.6-3.5H149.5l2.5 3.5-2.5 3.5H145.6zM153-3.5H154l1.5 3.5-1.5 3.5H153zM156-3.5H156.5l1.5 3.5-1.5 3.5H156zM160-3.5H162.5l2.5 3.5-2.5 3.5H160zM167-3.5H170.5l2.5 3.5-2.5 3.5H167zM175-3.5H177.5l2.5 3.5-2.5 3.5H175zM197-3.5H185.5l-2.5 3.5 2.5 3.5H197zM213-3.5H234.5l2.5 3.5-2.5 3.5H213zM250-3.5H248.5l-1.5 3.5 1.5 3.5H250zM255-3.5H262.5l2.5 3.5-2.5 3.5H255zM288-3.5H280.5l-2.5 3.5 2.5 3.5H288zM288.3-3.5H292.5l2.5 3.5-2.5 3.5H288.3zM308-3.5H306.5l-1.5 3.5 1.5 3.5H308zM318-3.5H311.5l-2.5 3.5 2.5 3.5H318zM335-3.5H336.5l1.5 3.5-1.5 3.5H335zM357-3.5H360.5l2.5 3.5-2.5 3.5H357zM367-3.5H368.5l1.5 3.5-1.5 3.5H367zM373-3.5H377.5l2.5 3.5-2.5 3.5H373zM380.3-3.5H382.5l2.5 3.5-2.5 3.5H380.3zM393-3.5H389.5l-2.5 3.5 2.5 3.5H393zM393.3-3.5H399.5l2.5 3.5-2.5 3.5H393.3zM405-3.5H407.5l2.5 3.5-2.5 3.5H405zM423-3.5H421.5l-1.5 3.5 1.5 3.5H423zM427-3.5H432.5l2.5 3.5-2.5 3.5H427zM440-3.5H440.5l1.5 3.5-1.5 3.5H440zM450-3.5H464.5l2.5 3.5-2.5 3.5H450zM473-3.5H479.5l2.5 3.5-2.5 3.5H473zM495-3.5H496.5l1.5 3.5-1.5 3.5H495zM519-3.5H517.5l-1.5 3.5 1.5 3.5H519zM587-3.5H592.5l2.5 3.5-2.5 3.5H587zM623-3.5H621.5l-1.5 3.5 1.5 3.5H623zM637.3-3.5H639.5l2.5 3.5-2.5 3.5H637.3zM669-3.5H667.5l-1.5 3.5 1.5 3.5H669zM680-3.5H678.5l-1.5 3.5 1.5 3.5H680zM710-3.5H710.5l1.5 3.5-1.5 3.5H710z"/>
<path class="v" d="M88-3.5H99.5l2.5 3.5-2.5 3.5H88zM715-3.5H722.5l2.5 3.5-2.5 3.5H715zM725.3-3.5H730.5l2.5 3.5-2.5 3.5H725.3zM733.3-3.5H734.5l1.5 3.5-1.5 3.5H733.3z"/>
<path class="t" d="M522-3.5H530.5l2.5 3.5-2.5 3.5H522zM533.3-3.5H542.5l2.5 3.5-2.5 3.5H533.3zM545.3-3.5H555.5l2.5 3.5-2.5 3.5H545.3zM560-3.5H565.5l2.5 3.5-2.5 3.5H560zM569-3.5H570.5l1.5 3.5-1.5 3.5H569zM643-3.5H650.5l2.5 3.5-2.5 3.5H643zM654-3.5H655.5l1.5 3.5-1.5 3.5H654zM657.3-3.5H658.5l1.5 3.5-1.5 3.5H657.3zM685-3.5H689.5l2.5 3.5-2.5 3.5H685zM695-3.5H697.5l2.5 3.5-2.5 3.5H695zM705-3.5H706.5l1.5 3.5-1.5 3.5H705z"/>
<path class="y" d="M625-3.5H625.5l1.5 3.5-1.5 3.5H625zM628-3.5H634.5l2.5 3.5-2.5 3.5H628z"/>
<g class="tl"><text x="80" y="9">1</text><text x="153" y="9">5,000</text><text x="227" y="9">10,000</text><text x="300" y="9">15,000</text><text x="374" y="9">20,000</text><text x="447" y="9">25,000</text><text x="520" y="9">30,000</text><text x="594" y="9">35,000</text><text x="667" y="9">40,000</text><text x="741" y="9">45,000</text></g>
<g class="bx"><rect x="77" y="-10" width="5" height="5"/><rect x="140" y="-10" width="8" height="5"/><rect x="146" y="-21" width="6" height="5"/><rect x="148" y="-15" width="6" height="5"/><rect x="150" y="-10" width="6" height="5"/><rect x="166" y="-18" width="6" height="5"/><rect x="172" y="-10" width="9" height="5"/><rect x="245" y="-10" width="6" height="5"/><rect x="275" y="-10" width="6" height="5"/><rect x="283" y="-10" width="6" height="5"/><rect x="293" y="-10" width="6" height="5"/><rect x="324" y="-10" width="6" height="5"/><rect x="356" y="-10" width="6" height="5"/><rect x="366" y="-16" width="6" height="5"/><rect x="373" y="-10" width="8" height="5"/><rect x="390" y="-10" width="6" height="5"/><rect x="409" y="-10" width="6" height="5"/><rect x="473" y="-10" width="8" height="5"/><rect x="535" y="-10" width="6" height="5"/><rect x="567" y="-14" width="6" height="5"/><rect x="618" y="-16" width="6" height="5"/><rect x="620" y="-10" width="8" height="5"/><rect x="630" y="-10" width="6" height="5"/><rect x="658" y="-10" width="6" height="5"/><rect x="662" y="-16" width="6" height="5"/><rect x="677" y="-10" width="9" height="5"/><rect x="688" y="-16" width="6" height="5"/><rect x="696" y="-10" width="6" height="5"/><rect x="705" y="-10" width="6" height="5"/><rect x="728" y="-10" width="6" height="5"/></g>
</g>

<!-- ===== B5 CCBAU 53363 ===== -->
<g id="track-CCBAU53363" transform="translate(0,263)">
<line class="tk" x1="77" y1="0" x2="750" y2="0"/>
<path class="s" d="M78-3.5H82.5l2.5 3.5-2.5 3.5H78zM85.3-3.5H87.5l2.5 3.5-2.5 3.5H85.3zM90.3-3.5H92.5l2.5 3.5-2.5 3.5H90.3zM95.3-3.5H97.5l2.5 3.5-2.5 3.5H95.3zM100.3-3.5H105.5l2.5 3.5-2.5 3.5H100.3zM128-3.5H130.5l2.5 3.5-2.5 3.5H128zM133.3-3.5H137.5l2.5 3.5-2.5 3.5H133.3z"/>
<path class="c" d="M108.3-3.5H110.5l1.5 3.5-1.5 3.5H108.3zM113-3.5H124.5l2.5 3.5-2.5 3.5H113zM141-3.5H152.5l2.5 3.5-2.5 3.5H141zM160-3.5H158.5l-1.5 3.5 1.5 3.5H160zM170-3.5H175.5l2.5 3.5-2.5 3.5H170zM215.5-3.5H214.5l-1.5 3.5 1.5 3.5H215.5zM227.5-3.5H226.5l-1.5 3.5 1.5 3.5H227.5zM240-3.5H245.5l2.5 3.5-2.5 3.5H240zM250-3.5H255.5l2.5 3.5-2.5 3.5H250zM263-3.5H267.5l2.5 3.5-2.5 3.5H263zM272-3.5H277.5l2.5 3.5-2.5 3.5H272zM352-3.5H354.5l2.5 3.5-2.5 3.5H352zM368-3.5H377.5l2.5 3.5-2.5 3.5H368zM433-3.5H433.5l1.5 3.5-1.5 3.5H433zM472.5-3.5H471.5l-1.5 3.5 1.5 3.5H472.5zM477-3.5H484.5l2.5 3.5-2.5 3.5H477zM503-3.5H509.5l2.5 3.5-2.5 3.5H503zM512.3-3.5H517.5l2.5 3.5-2.5 3.5H512.3zM523-3.5H525.5l2.5 3.5-2.5 3.5H523zM543-3.5H541.5l-1.5 3.5 1.5 3.5H543zM545-3.5H550.5l2.5 3.5-2.5 3.5H545zM555-3.5H559.5l2.5 3.5-2.5 3.5H555zM565-3.5H577.5l2.5 3.5-2.5 3.5H565zM580.3-3.5H584.5l2.5 3.5-2.5 3.5H580.3zM588-3.5H595.5l2.5 3.5-2.5 3.5H588zM600-3.5H600.5l1.5 3.5-1.5 3.5H600zM602.3-3.5H607.5l2.5 3.5-2.5 3.5H602.3zM610.3-3.5H617.5l2.5 3.5-2.5 3.5H610.3zM627-3.5H624.5l-1.5 3.5 1.5 3.5H627zM632-3.5H637.5l2.5 3.5-2.5 3.5H632zM642-3.5H644.5l2.5 3.5-2.5 3.5H642zM648-3.5H660.5l2.5 3.5-2.5 3.5H648zM665-3.5H669.5l2.5 3.5-2.5 3.5H665zM687-3.5H692.5l2.5 3.5-2.5 3.5H687zM697-3.5H702.5l2.5 3.5-2.5 3.5H697zM708-3.5H715.5l2.5 3.5-2.5 3.5H708zM720-3.5H727.5l2.5 3.5-2.5 3.5H720zM730.3-3.5H740.5l2.5 3.5-2.5 3.5H730.3z"/>
<path class="y" d="M182-3.5H183.5l1.5 3.5-1.5 3.5H182zM363-3.5H363.5l1.5 3.5-1.5 3.5H363z"/>
<path class="m" d="M293-3.5H295.5l2.5 3.5-2.5 3.5H293z"/>
<path class="t" d="M195-3.5H205.5l2.5 3.5-2.5 3.5H195zM302-3.5H309.5l2.5 3.5-2.5 3.5H302zM312.3-3.5H320.5l2.5 3.5-2.5 3.5H312.3zM323.3-3.5H332.5l2.5 3.5-2.5 3.5H323.3zM335.3-3.5H344.5l2.5 3.5-2.5 3.5H335.3zM347.3-3.5H348.5l1.5 3.5-1.5 3.5H347.3zM365.3-3.5H365.5l1.5 3.5-1.5 3.5H365.3zM383-3.5H390.5l2.5 3.5-2.5 3.5H383zM418-3.5H422.5l2.5 3.5-2.5 3.5H418zM426-3.5H427.5l1.5 3.5-1.5 3.5H426zM430-3.5H430.5l1.5 3.5-1.5 3.5H430z"/>
<path class="v" d="M438-3.5H448.5l2.5 3.5-2.5 3.5H438zM452-3.5H460.5l2.5 3.5-2.5 3.5H452zM463.3-3.5H464.5l1.5 3.5-1.5 3.5H463.3z"/>
<path d="M186-3V3M491-3V3M496-3V3M533-3V3" stroke="#333" stroke-width=".8"/>
<g class="tl"><text x="80" y="9">1</text><text x="153" y="9">10,000</text><text x="227" y="9">20,000</text><text x="300" y="9">30,000</text><text x="374" y="9">40,000</text><text x="447" y="9">50,000</text><text x="520" y="9">60,000</text><text x="594" y="9">70,000</text><text x="667" y="9">80,000</text><text x="741" y="9">90,000</text></g>
<g class="bx"><rect x="77" y="-10" width="6" height="5" style="fill:#f1d0d0"/><rect x="88" y="-10" width="6" height="5" style="fill:#f1d0d0"/><rect x="94" y="-16" width="6" height="5" style="fill:#f1d0d0"/><rect x="111" y="-10" width="6" height="5"/><rect x="128" y="-10" width="6" height="5" style="fill:#f1d0d0"/><rect x="131" y="-16" width="6" height="5" style="fill:#f1d0d0"/><rect x="171" y="-10" width="6" height="5"/><rect x="181" y="-12" width="8" height="5"/><rect x="181" y="-19" width="8" height="5"/><rect x="240" y="-16" width="9" height="5"/><rect x="249" y="-10" width="9" height="5"/><rect x="259" y="-20" width="7" height="5"/><rect x="262" y="-14" width="7" height="5"/><rect x="270" y="-10" width="8" height="5"/><rect x="293" y="-10" width="6" height="5" style="fill:#f1d0d0"/><rect x="347" y="-10" width="6" height="5"/><rect x="362" y="-16" width="6" height="5"/><rect x="362" y="-10" width="6" height="5"/><rect x="383" y="-10" width="6" height="5"/><rect x="402" y="-10" width="6" height="5"/><rect x="418" y="-10" width="6" height="5"/><rect x="434" y="-10" width="6" height="5"/><rect x="448" y="-10" width="6" height="5"/><rect x="478" y="-10" width="6" height="5"/><rect x="484" y="-10" width="6" height="5"/><rect x="531" y="-10" width="8" height="5"/><rect x="573" y="-10" width="6" height="5"/><rect x="580" y="-16" width="8" height="5"/><rect x="585" y="-10" width="6" height="5"/><rect x="595" y="-16" width="8" height="5"/><rect x="614" y="-10" width="6" height="5"/><rect x="621" y="-10" width="6" height="5"/><rect x="643" y="-16" width="6" height="5"/><rect x="645" y="-10" width="8" height="5"/><rect x="662" y="-10" width="8" height="5"/><rect x="689" y="-10" width="6" height="5"/><rect x="701" y="-21" width="8" height="5"/><rect x="708" y="-10" width="6" height="5"/><rect x="711" y="-16" width="8" height="5"/><rect x="727" y="-10" width="8" height="5"/></g>
</g>
</svg>
